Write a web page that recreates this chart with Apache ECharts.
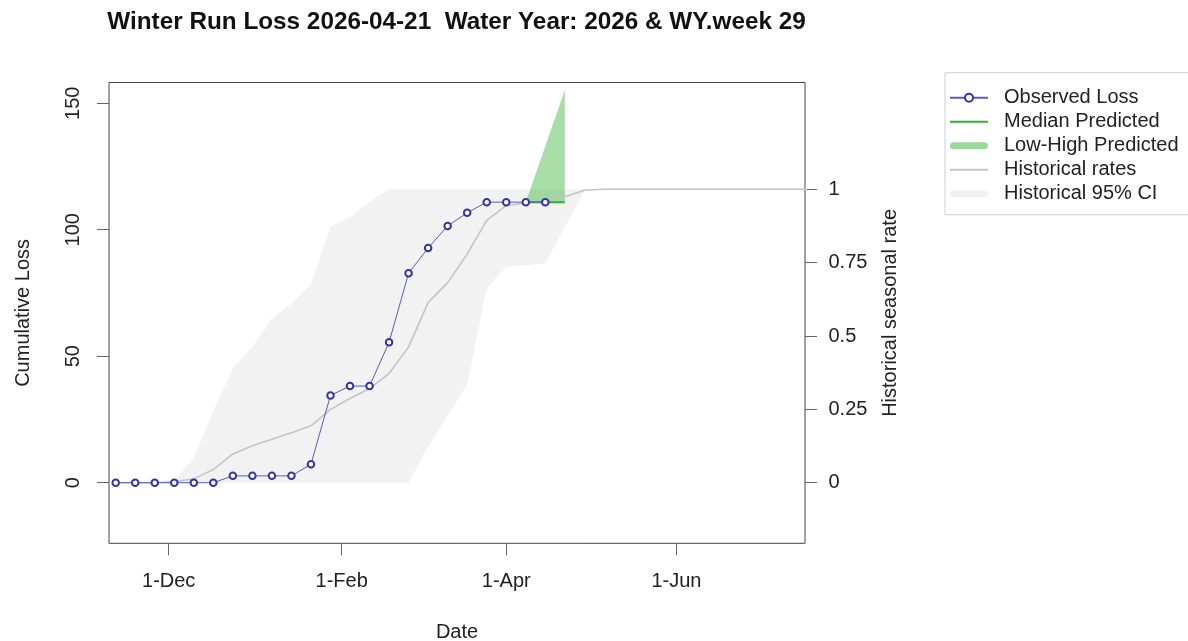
<!DOCTYPE html>
<html lang="en">
<head>
    <meta charset="UTF-8">
    <title>Winter Run Loss</title>
    <script src="https://cdn.jsdelivr.net/npm/echarts@6/dist/echarts.min.js"></script>
    <style>
        html, body { margin: 0; padding: 0; background: #fff; }
        #chart { width: 1188px; height: 641px; }
    </style>
</head>
<body>
<div id="chart"></div>
<script>
    // observed weekly cumulative loss
    const obsDates = ['2025-11-12', '2025-11-19', '2025-11-26', '2025-12-03', '2025-12-10', '2025-12-17',
        '2025-12-24', '2025-12-31', '2026-01-07', '2026-01-14', '2026-01-21', '2026-01-28',
        '2026-02-04', '2026-02-11', '2026-02-18', '2026-02-25', '2026-03-04', '2026-03-11',
        '2026-03-18', '2026-03-25', '2026-04-01', '2026-04-08', '2026-04-15'];
    const obsLoss = [0, 0, 0, 0, 0, 0, 2.7, 2.7, 2.7, 2.7, 7.3, 34.5,
        38.2, 38.2, 55.5, 82.8, 92.8, 101.5, 106.7, 110.9, 110.9, 110.9, 110.9];

    // prediction
    const predDates = ['2026-04-08', '2026-04-15', '2026-04-22'];
    const predMedian = [110.9, 110.9, 110.9];
    const predLow = [110.9, 110.9, 110.9];
    const predHigh = [110.9, 133, 155.2];

    // historical seasonal rates (right axis)
    const histDates = obsDates.concat(['2026-04-22', '2026-04-29', '2026-05-06', '2026-05-13',
        '2026-05-20', '2026-05-27', '2026-06-03', '2026-06-10', '2026-06-17', '2026-06-24',
        '2026-07-01', '2026-07-08', '2026-07-15', '2026-07-22']);
    const histRate = [0, 0, 0, 0.003, 0.013, 0.045, 0.098, 0.126, 0.148, 0.170, 0.194, 0.25,
        0.287, 0.321, 0.372, 0.463, 0.614, 0.682, 0.779, 0.894, 0.945, 0.953, 0.962, 0.975,
        0.997, 1, 1, 1, 1, 1, 1, 1, 1, 1, 1, 1, 1];
    const histLow = [0, 0, 0, 0, 0, 0, 0, 0, 0, 0, 0, 0,
        0, 0, 0, 0, 0.123, 0.228, 0.335, 0.663, 0.735, 0.741, 0.747, 0.87,
        0.995, 1, 1, 1, 1, 1, 1, 1, 1, 1, 1, 1, 1];
    const histHigh = [0, 0, 0, 0.01, 0.083, 0.245, 0.39, 0.463, 0.56, 0.611, 0.675, 0.872,
        0.906, 0.958, 1, 1, 1, 1, 1, 1, 1, 1, 1, 1,
        1, 1, 1, 1, 1, 1, 1, 1, 1, 1, 1, 1, 1];

    const tickDates = ['2025-12-01', '2026-02-01', '2026-04-01', '2026-06-01'];
    const tickLabels = ['1-Dec', '1-Feb', '1-Apr', '1-Jun'];
    const leftTicks = [0, 50, 100, 150];
    const rightTicks = [0, 0.25, 0.5, 0.75, 1];

    // day of water year (1-Oct = 0)
    const wyStart = Date.UTC(2025, 9, 1);
    function wyDay(s) {
        const p = s.split('-').map(Number);
        return (Date.UTC(p[0], p[1] - 1, p[2]) - wyStart) / 86400000;
    }
    const pairs = (dates, vals) => dates.map((d, i) => [wyDay(d), vals[i]]);
    const triples = (dates, lo, hi) => dates.map((d, i) => [wyDay(d), lo[i], hi[i]]);
    const tickDays = tickDates.map(wyDay);

    // one filled polygon between low and high, built from the series data
    function bandItem(fill) {
        return function (params, api) {
            if (params.dataIndex !== 0) return null;
            const n = params.dataInsideLength;
            const top = [], bottom = [];
            for (let i = 0; i < n; i++) {
                const x = api.value(0, i);
                top.push(api.coord([x, api.value(2, i)]));
                bottom.push(api.coord([x, api.value(1, i)]));
            }
            return {
                type: 'polygon',
                shape: { points: top.concat(bottom.reverse()) },
                style: { fill: fill }
            };
        };
    }

    // R style thick legend key
    const thickKey = 'path://M3.5,0 L34.5,0 A3.5,3.5 0 0 1 34.5,7 L3.5,7 A3.5,3.5 0 0 1 3.5,0 Z';

    const FONT = '"Liberation Sans", Arial, Helvetica, sans-serif';
    const chart = echarts.init(document.getElementById('chart'));

    chart.setOption({
        animation: false,
        textStyle: { fontFamily: FONT, color: '#222' },
        title: {
            text: 'Winter Run Loss 2026-04-21  Water Year: 2026 & WY.week 29',
            left: 451.5, top: 5.5, textAlign: 'center',
            textStyle: { fontSize: 24.3, fontWeight: 'bold', color: '#111', fontFamily: FONT }
        },
        grid: {
            left: 109, right: 383, top: 82.5, bottom: 97.7,
            show: true, borderColor: '#444', borderWidth: 1,
            outerBoundsMode: 'none'
        },
        legend: {
            orient: 'vertical', left: 945, top: 72.7,
            padding: [15, 40, 11, 4],
            borderColor: '#cfcfcf', borderWidth: 1,
            itemWidth: 38, itemHeight: 10, itemGap: 4,
            selectedMode: false,
            textStyle: { fontSize: 20, color: '#222', fontFamily: FONT, padding: [0, 0, 0, 11] },
            data: [
                { name: 'Observed Loss' },
                { name: 'Median Predicted', itemStyle: { opacity: 0 } },
                { name: 'Low-High Predicted', icon: thickKey,
                    itemStyle: { color: '#9ad89a', borderWidth: 0 } },
                { name: 'Historical rates', itemStyle: { opacity: 0 } },
                { name: 'Historical 95% CI', icon: thickKey,
                    itemStyle: { color: '#f0f0f0', borderWidth: 0 } }
            ]
        },
        xAxis: {
            type: 'value', min: 39.6, max: 289.1,
            name: 'Date', nameLocation: 'middle', nameGap: 79,
            nameTextStyle: { fontSize: 20, color: '#222' },
            axisLine: { show: false, onZero: false },
            splitLine: { show: false },
            axisTick: { show: true, length: 12, customValues: tickDays, lineStyle: { color: '#666' } },
            axisLabel: {
                fontSize: 20, color: '#222', margin: 28, customValues: tickDays,
                formatter: v => tickLabels[tickDays.indexOf(v)] || ''
            }
        },
        yAxis: [{
            type: 'value', min: -23.96, max: 158.2,
            name: 'Cumulative Loss', nameLocation: 'middle', nameGap: 76, nameRotate: 90,
            nameTextStyle: { fontSize: 20, color: '#222' },
            axisLine: { show: false, onZero: false },
            splitLine: { show: false },
            axisTick: { show: true, length: 12, customValues: leftTicks, lineStyle: { color: '#666' } },
            axisLabel: { fontSize: 20, color: '#222', margin: 26, rotate: 90, customValues: leftTicks }
        }, {
            type: 'value', min: -0.2065, max: 1.364, position: 'right',
            name: 'Historical seasonal rate', nameLocation: 'middle', nameGap: 75, nameRotate: 90,
            nameTextStyle: { fontSize: 20, color: '#222' },
            axisLine: { show: false, onZero: false },
            splitLine: { show: false },
            axisTick: { show: true, length: 12, customValues: rightTicks, lineStyle: { color: '#666' } },
            axisLabel: { fontSize: 20, color: '#222', margin: 23.5, customValues: rightTicks }
        }],
        series: [
            {
                name: 'Historical 95% CI', type: 'custom', yAxisIndex: 1, silent: true,
                itemStyle: { color: '#f0f0f0' },
                renderItem: bandItem('#f2f2f2'),
                encode: { x: 0, y: [1, 2] },
                data: triples(histDates, histLow, histHigh)
            },
            {
                name: 'Historical rates', type: 'line', yAxisIndex: 1, silent: true,
                symbol: 'none', color: '#c4c4c4',
                lineStyle: { width: 1.6, color: '#c4c4c4' },
                data: pairs(histDates, histRate)
            },
            {
                name: 'Low-High Predicted', type: 'custom', silent: true,
                itemStyle: { color: '#9ad89a' },
                renderItem: bandItem('rgba(60,180,60,0.45)'),
                encode: { x: 0, y: [1, 2] },
                data: triples(predDates, predLow, predHigh)
            },
            {
                name: 'Median Predicted', type: 'line', silent: true,
                symbol: 'none', color: '#2fb02f',
                lineStyle: { width: 2, color: '#2fb02f' },
                data: pairs(predDates, predMedian)
            },
            {
                name: 'Observed Loss', type: 'line', silent: true,
                symbol: 'emptyCircle', symbolSize: 6.5, color: '#3434a8',
                itemStyle: { color: '#3434a8', borderColor: '#3434a8', borderWidth: 1 },
                lineStyle: { width: 1, color: '#5a5ac4' },
                data: pairs(obsDates, obsLoss)
            }
        ]
    });
</script>
</body>
</html>
